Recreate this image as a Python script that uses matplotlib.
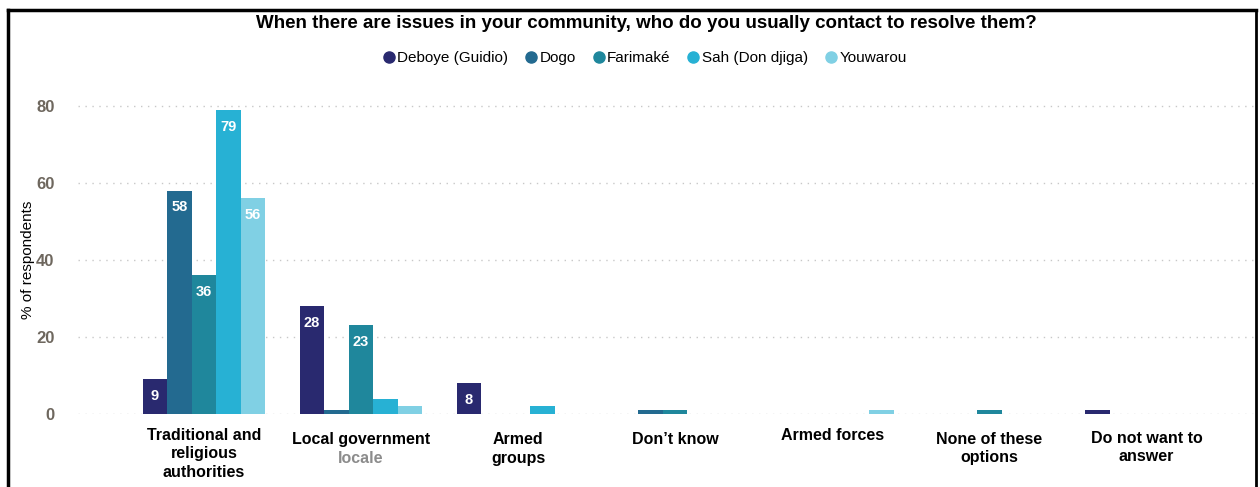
import numpy as np
import matplotlib.pyplot as plt
from matplotlib.lines import Line2D

plt.rcParams['font.family'] = ['Liberation Sans', 'DejaVu Sans']

# Survey answers per location (% of respondents)
categories = ['Traditional and\nreligious\nauthorities', 'Local government', 'Armed\ngroups',
              'Don\u2019t know', 'Armed forces', 'None of these\noptions', 'Do not want to\nanswer']
locations = ['Deboye (Guidio)', 'Dogo', 'Farimak\u00e9', 'Sah (Don djiga)', 'Youwarou']
deboye = [9, 28, 8, 0, 0, 0, 1]
dogo = [58, 1, 0, 1, 0, 0, 0]
farimake = [36, 23, 0, 1, 0, 1, 0]
sah = [79, 4, 2, 0, 0, 0, 0]
youwarou = [56, 2, 0, 0, 1, 0, 0]
series = [deboye, dogo, farimake, sah, youwarou]
colors = ['#29296f', '#236a90', '#1f879c', '#27b1d4', '#80d0e4']

fig = plt.figure(figsize=(12.6, 4.87), dpi=100)
ax = fig.add_axes([0.062, 0.1499, 0.934, 0.648])

x = np.arange(len(categories))
width = 0.156
for i, (vals, col) in enumerate(zip(series, colors)):
    pos = x + (i - 2) * width
    bars = ax.bar(pos, vals, width, color=col, zorder=3)
    for b, v in zip(bars, vals):
        if v >= 8:
            ax.annotate(str(v), (b.get_x() + b.get_width() / 2, v), xytext=(0, -12),
                        textcoords='offset points', ha='center', va='center',
                        color='white', fontweight='bold', fontsize=10.5, zorder=4)

ax.set_xlim(-0.80, 6.69)
ax.set_ylim(0, 82)
ax.set_yticks([0, 20, 40, 60, 80])
ax.yaxis.grid(True, linestyle=(0, (1, 4)), color='#c8c8c8', linewidth=1, zorder=0)
ax.tick_params(axis='y', length=0, pad=17, labelsize=12, labelcolor='#6e675e')
for t in ax.get_yticklabels():
    t.set_fontweight('bold')
ax.set_xticks([])
for s in ax.spines.values():
    s.set_visible(False)
ax.set_ylabel('% of respondents', fontsize=11)
ax.yaxis.set_label_coords(-0.037, 0.488)

# category labels below the bars
label_y = [-3.6, -4.6, -4.8, -4.6, -3.6, -4.6, -4.3]
for xi, lab, ly in zip(x, categories, label_y):
    ax.text(xi, ly, lab, ha='center', va='top', fontsize=11.5, fontweight='bold',
            linespacing=1.28)
ax.text(x[1], -9.6, 'locale', ha='center', va='top', fontsize=11.5, fontweight='bold',
        color='#8c8c8c')

fig.text(0.513, 0.952, 'When there are issues in your community, who do you usually contact to resolve them?',
         ha='center', va='center', fontsize=13.5, fontweight='bold')

handles = [Line2D([], [], marker='o', linestyle='none', markersize=8, color=c) for c in colors]
fig.legend(handles, locations, loc='center', bbox_to_anchor=(0.511, 0.88), ncol=5, frameon=False,
           fontsize=11, handletextpad=0.05, columnspacing=1.0, handlelength=1.0)

# outer frame
fig.add_artist(Line2D([0.0065, 0.9968], [0.98, 0.98], color='black', linewidth=2.5))
fig.add_artist(Line2D([0.0065, 0.0065], [0.0, 0.98], color='black', linewidth=2.5))
fig.add_artist(Line2D([0.9968, 0.9968], [0.0, 0.98], color='black', linewidth=2))

fig.savefig('out.png', dpi=100)
